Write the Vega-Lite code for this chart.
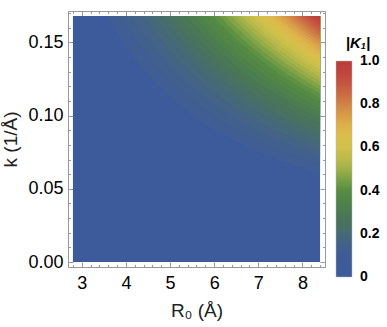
{
  "$schema": "https://vega.github.io/schema/vega-lite/v6.json",
  "width": 257,
  "height": 256,
  "autosize": "none",
  "padding": {"left": 68, "top": 11, "right": 62, "bottom": 60},
  "config": {"view": {"stroke": null}, "font": "Liberation Sans"},
  "data": {"values": [
    {"v":0,"R0":2.8,"k":0},{"v":0,"R0":8.4,"k":0},
    {"v":0.1125,"R0":3.58,"k":0.168},{"v":0.1125,"R0":4,"k":0.1471},{"v":0.1125,"R0":4.5,"k":0.1277},{"v":0.1125,"R0":5,"k":0.1125},{"v":0.1125,"R0":5.5,"k":0.1004},{"v":0.1125,"R0":6,"k":0.0904},{"v":0.1125,"R0":6.5,"k":0.0821},{"v":0.1125,"R0":7,"k":0.0751},{"v":0.1125,"R0":7.5,"k":0.0692},{"v":0.1125,"R0":8,"k":0.064},{"v":0.1125,"R0":8.4,"k":0.0604},
    {"v":0.1375,"R0":3.889,"k":0.168},{"v":0.1375,"R0":4,"k":0.1624},{"v":0.1375,"R0":4.5,"k":0.141},{"v":0.1375,"R0":5,"k":0.1243},{"v":0.1375,"R0":5.5,"k":0.1108},{"v":0.1375,"R0":6,"k":0.0998},{"v":0.1375,"R0":6.5,"k":0.0907},{"v":0.1375,"R0":7,"k":0.083},{"v":0.1375,"R0":7.5,"k":0.0764},{"v":0.1375,"R0":8,"k":0.0707},{"v":0.1375,"R0":8.4,"k":0.0667},
    {"v":0.1625,"R0":4.16,"k":0.168},{"v":0.1625,"R0":4.5,"k":0.1529},{"v":0.1625,"R0":5,"k":0.1347},{"v":0.1625,"R0":5.5,"k":0.1202},{"v":0.1625,"R0":6,"k":0.1083},{"v":0.1625,"R0":6.5,"k":0.0984},{"v":0.1625,"R0":7,"k":0.09},{"v":0.1625,"R0":7.5,"k":0.0828},{"v":0.1625,"R0":8,"k":0.0767},{"v":0.1625,"R0":8.4,"k":0.0723},
    {"v":0.1875,"R0":4.405,"k":0.168},{"v":0.1875,"R0":4.5,"k":0.1637},{"v":0.1875,"R0":5,"k":0.1443},{"v":0.1875,"R0":5.5,"k":0.1287},{"v":0.1875,"R0":6,"k":0.116},{"v":0.1875,"R0":6.5,"k":0.1053},{"v":0.1875,"R0":7,"k":0.0964},{"v":0.1875,"R0":7.5,"k":0.0887},{"v":0.1875,"R0":8,"k":0.0821},{"v":0.1875,"R0":8.4,"k":0.0774},
    {"v":0.2125,"R0":4.628,"k":0.168},{"v":0.2125,"R0":5,"k":0.1531},{"v":0.2125,"R0":5.5,"k":0.1366},{"v":0.2125,"R0":6,"k":0.123},{"v":0.2125,"R0":6.5,"k":0.1118},{"v":0.2125,"R0":7,"k":0.1023},{"v":0.2125,"R0":7.5,"k":0.0941},{"v":0.2125,"R0":8,"k":0.0871},{"v":0.2125,"R0":8.4,"k":0.0822},
    {"v":0.2375,"R0":4.835,"k":0.168},{"v":0.2375,"R0":5,"k":0.1614},{"v":0.2375,"R0":5.5,"k":0.1439},{"v":0.2375,"R0":6,"k":0.1296},{"v":0.2375,"R0":6.5,"k":0.1178},{"v":0.2375,"R0":7,"k":0.1078},{"v":0.2375,"R0":7.5,"k":0.0992},{"v":0.2375,"R0":8,"k":0.0918},{"v":0.2375,"R0":8.4,"k":0.0866},
    {"v":0.2625,"R0":5.027,"k":0.168},{"v":0.2625,"R0":5.5,"k":0.1508},{"v":0.2625,"R0":6,"k":0.1359},{"v":0.2625,"R0":6.5,"k":0.1234},{"v":0.2625,"R0":7,"k":0.1129},{"v":0.2625,"R0":7.5,"k":0.1039},{"v":0.2625,"R0":8,"k":0.0962},{"v":0.2625,"R0":8.4,"k":0.0907},
    {"v":0.2875,"R0":5.207,"k":0.168},{"v":0.2875,"R0":5.5,"k":0.1573},{"v":0.2875,"R0":6,"k":0.1417},{"v":0.2875,"R0":6.5,"k":0.1288},{"v":0.2875,"R0":7,"k":0.1178},{"v":0.2875,"R0":7.5,"k":0.1084},{"v":0.2875,"R0":8,"k":0.1004},{"v":0.2875,"R0":8.4,"k":0.0947},
    {"v":0.3125,"R0":5.378,"k":0.168},{"v":0.3125,"R0":5.5,"k":0.1635},{"v":0.3125,"R0":6,"k":0.1473},{"v":0.3125,"R0":6.5,"k":0.1338},{"v":0.3125,"R0":7,"k":0.1225},{"v":0.3125,"R0":7.5,"k":0.1127},{"v":0.3125,"R0":8,"k":0.1043},{"v":0.3125,"R0":8.4,"k":0.0984},
    {"v":0.3375,"R0":5.54,"k":0.168},{"v":0.3375,"R0":6,"k":0.1527},{"v":0.3375,"R0":6.5,"k":0.1387},{"v":0.3375,"R0":7,"k":0.1269},{"v":0.3375,"R0":7.5,"k":0.1168},{"v":0.3375,"R0":8,"k":0.1081},{"v":0.3375,"R0":8.4,"k":0.1019},
    {"v":0.3625,"R0":5.694,"k":0.168},{"v":0.3625,"R0":6,"k":0.1578},{"v":0.3625,"R0":6.5,"k":0.1433},{"v":0.3625,"R0":7,"k":0.1311},{"v":0.3625,"R0":7.5,"k":0.1207},{"v":0.3625,"R0":8,"k":0.1117},{"v":0.3625,"R0":8.4,"k":0.1054},
    {"v":0.3875,"R0":5.841,"k":0.168},{"v":0.3875,"R0":6,"k":0.1627},{"v":0.3875,"R0":6.5,"k":0.1478},{"v":0.3875,"R0":7,"k":0.1352},{"v":0.3875,"R0":7.5,"k":0.1245},{"v":0.3875,"R0":8,"k":0.1152},{"v":0.3875,"R0":8.4,"k":0.1086},
    {"v":0.4125,"R0":5.983,"k":0.168},{"v":0.4125,"R0":6,"k":0.1674},{"v":0.4125,"R0":6.5,"k":0.1521},{"v":0.4125,"R0":7,"k":0.1392},{"v":0.4125,"R0":7.5,"k":0.1281},{"v":0.4125,"R0":8,"k":0.1185},{"v":0.4125,"R0":8.4,"k":0.1118},
    {"v":0.4375,"R0":6.119,"k":0.168},{"v":0.4375,"R0":6.5,"k":0.1562},{"v":0.4375,"R0":7,"k":0.143},{"v":0.4375,"R0":7.5,"k":0.1316},{"v":0.4375,"R0":8,"k":0.1218},{"v":0.4375,"R0":8.4,"k":0.1149},
    {"v":0.4625,"R0":6.249,"k":0.168},{"v":0.4625,"R0":6.5,"k":0.1603},{"v":0.4625,"R0":7,"k":0.1466},{"v":0.4625,"R0":7.5,"k":0.135},{"v":0.4625,"R0":8,"k":0.1249},{"v":0.4625,"R0":8.4,"k":0.1178},
    {"v":0.4875,"R0":6.376,"k":0.168},{"v":0.4875,"R0":6.5,"k":0.1642},{"v":0.4875,"R0":7,"k":0.1502},{"v":0.4875,"R0":7.5,"k":0.1383},{"v":0.4875,"R0":8,"k":0.128},{"v":0.4875,"R0":8.4,"k":0.1207},
    {"v":0.5125,"R0":6.498,"k":0.168},{"v":0.5125,"R0":7,"k":0.1537},{"v":0.5125,"R0":7.5,"k":0.1415},{"v":0.5125,"R0":8,"k":0.1309},{"v":0.5125,"R0":8.4,"k":0.1235},
    {"v":0.5375,"R0":6.617,"k":0.168},{"v":0.5375,"R0":7,"k":0.157},{"v":0.5375,"R0":7.5,"k":0.1446},{"v":0.5375,"R0":8,"k":0.1338},{"v":0.5375,"R0":8.4,"k":0.1262},
    {"v":0.5625,"R0":6.732,"k":0.168},{"v":0.5625,"R0":7,"k":0.1603},{"v":0.5625,"R0":7.5,"k":0.1476},{"v":0.5625,"R0":8,"k":0.1366},{"v":0.5625,"R0":8.4,"k":0.1288},
    {"v":0.5875,"R0":6.843,"k":0.168},{"v":0.5875,"R0":7,"k":0.1635},{"v":0.5875,"R0":7.5,"k":0.1505},{"v":0.5875,"R0":8,"k":0.1393},{"v":0.5875,"R0":8.4,"k":0.1314},
    {"v":0.6125,"R0":6.952,"k":0.168},{"v":0.6125,"R0":7,"k":0.1666},{"v":0.6125,"R0":7.5,"k":0.1534},{"v":0.6125,"R0":8,"k":0.142},{"v":0.6125,"R0":8.4,"k":0.1339},
    {"v":0.6375,"R0":7.058,"k":0.168},{"v":0.6375,"R0":7.5,"k":0.1562},{"v":0.6375,"R0":8,"k":0.1446},{"v":0.6375,"R0":8.4,"k":0.1363},
    {"v":0.6625,"R0":7.161,"k":0.168},{"v":0.6625,"R0":7.5,"k":0.1589},{"v":0.6625,"R0":8,"k":0.1471},{"v":0.6625,"R0":8.4,"k":0.1387},
    {"v":0.6875,"R0":7.262,"k":0.168},{"v":0.6875,"R0":7.5,"k":0.1616},{"v":0.6875,"R0":8,"k":0.1496},{"v":0.6875,"R0":8.4,"k":0.1411},
    {"v":0.7125,"R0":7.361,"k":0.168},{"v":0.7125,"R0":7.5,"k":0.1643},{"v":0.7125,"R0":8,"k":0.152},{"v":0.7125,"R0":8.4,"k":0.1434},
    {"v":0.7375,"R0":7.457,"k":0.168},{"v":0.7375,"R0":7.5,"k":0.1668},{"v":0.7375,"R0":8,"k":0.1544},{"v":0.7375,"R0":8.4,"k":0.1456},
    {"v":0.7625,"R0":7.551,"k":0.168},{"v":0.7625,"R0":8,"k":0.1568},{"v":0.7625,"R0":8.4,"k":0.1478},
    {"v":0.7875,"R0":7.643,"k":0.168},{"v":0.7875,"R0":8,"k":0.1591},{"v":0.7875,"R0":8.4,"k":0.15},
    {"v":0.8125,"R0":7.734,"k":0.168},{"v":0.8125,"R0":8,"k":0.1613},{"v":0.8125,"R0":8.4,"k":0.1521},
    {"v":0.8375,"R0":7.822,"k":0.168},{"v":0.8375,"R0":8,"k":0.1635},{"v":0.8375,"R0":8.4,"k":0.1542},
    {"v":0.8625,"R0":7.909,"k":0.168},{"v":0.8625,"R0":8,"k":0.1657},{"v":0.8625,"R0":8.4,"k":0.1563},
    {"v":0.8875,"R0":7.995,"k":0.168},{"v":0.8875,"R0":8.4,"k":0.1583},
    {"v":0.9125,"R0":8.079,"k":0.168},{"v":0.9125,"R0":8.4,"k":0.1603},
    {"v":0.9375,"R0":8.161,"k":0.168},{"v":0.9375,"R0":8.4,"k":0.1623},
    {"v":0.9625,"R0":8.242,"k":0.168},{"v":0.9625,"R0":8.4,"k":0.1642},
    {"v":0.9875,"R0":8.322,"k":0.168},{"v":0.9875,"R0":8.4,"k":0.1661}
  ]},
  "encoding": {
    "y2": {"datum": 0.168},
    "detail": {"field": "v", "type": "nominal"},
    "color": {
      "field": "v", "type": "quantitative",
      "scale": {
        "domain": [0, 0.1, 0.15, 0.2, 0.25, 0.3, 0.35, 0.4, 0.45, 0.5, 0.55, 0.6, 0.65, 0.7, 0.75, 0.8, 0.85, 0.9, 0.95, 1],
        "range": ["#3d5a9b", "#3f5b97", "#43618a", "#466a75", "#48725e", "#4a7a52", "#4f8448", "#578c43", "#78a045", "#a0b048", "#bdbb4a", "#cfc14b", "#dabe4c", "#ddb24b", "#d89b48", "#d08346", "#ca6a43", "#c4533f", "#bf443c", "#bc3a3a"],
        "interpolate": "rgb"
      },
      "legend": {
        "orient": "none", "legendX": 268, "legendY": 25, "direction": "vertical",
        "gradientLength": 216, "gradientThickness": 16,
        "gradientStrokeColor": "#bbbbbb", "gradientStrokeWidth": 0.5,
        "title": "|K₁|", "titleFontSize": 15, "titleFontWeight": "bold", "titleFontStyle": "italic",
        "titleColor": "black", "titlePadding": 10, "titleAnchor": "middle",
        "values": [0, 0.2, 0.4, 0.6, 0.8, 1],
        "labelExpr": "datum.value == 0 ? '0' : format(datum.value, '.1f')",
        "labelFontSize": 14, "labelFontWeight": "bold", "labelColor": "black",
        "labelOffset": 8, "labelBaseline": "middle", "labelOverlap": false,
        "encode": {"labels": {"update": {"baseline": {"value": "middle"}}}}
      }
    }
  },
  "layer": [
    {
      "transform": [{"filter": "datum.v == 0"}],
      "mark": {"type": "area", "interpolate": "monotone"},
      "encoding": {
        "x": {"field": "R0", "type": "quantitative",
          "scale": {"domain": [2.688, 8.512], "nice": false, "zero": false},
          "axis": {"orient": "bottom", "title": "R₀ (Å)",
            "values": [2.8,3,3.2,3.4,3.6,3.8,4,4.2,4.4,4.6,4.8,5,5.2,5.4,5.6,5.8,6,6.2,6.4,6.6,6.8,7,7.2,7.4,7.6,7.8,8,8.2,8.4],
            "labelExpr": "datum.value % 1 === 0 ? format(datum.value, 'd') : ''",
            "labelFontSize": 18, "labelColor": "black", "labelPadding": 12, "labelOverlap": false, "labelFlush": false,
            "tickSize": {"condition": {"test": "datum.value % 1 === 0", "value": -5}, "value": -2.5},
            "tickColor": "#999999", "domainColor": "#999999", "grid": false,
            "titleFontSize": 19, "titleFontWeight": "normal", "titleColor": "#222222", "titlePadding": 7}},
        "y": {"field": "k", "type": "quantitative", "stack": null,
          "scale": {"domain": [-0.00336, 0.17136], "nice": false, "zero": false},
          "axis": {"orient": "left", "title": "k (1/Å)",
            "values": [0,0.01,0.02,0.03,0.04,0.05,0.06,0.07,0.08,0.09,0.1,0.11,0.12,0.13,0.14,0.15,0.16,0.17],
            "labelExpr": "abs(datum.value*20 - round(datum.value*20)) < 0.000001 ? format(datum.value, '.2f') : ''",
            "labelFontSize": 18, "labelColor": "black", "labelPadding": 10, "labelOverlap": false, "labelFlush": false,
            "tickSize": {"condition": {"test": "abs(datum.value*20 - round(datum.value*20)) < 0.000001", "value": -5}, "value": -2.5},
            "tickColor": "#999999", "domainColor": "#999999", "grid": false,
            "titleFontSize": 19, "titleFontWeight": "normal", "titleColor": "#222222", "titlePadding": 7}}
      }
    },
    {
      "transform": [{"filter": "datum.v > 0"}],
      "mark": {"type": "area", "interpolate": "monotone"},
      "encoding": {
        "x": {"field": "R0", "type": "quantitative",
          "scale": {"domain": [2.688, 8.512], "nice": false, "zero": false},
          "axis": {"orient": "top", "title": null, "labels": false,
            "values": [2.8,3,3.2,3.4,3.6,3.8,4,4.2,4.4,4.6,4.8,5,5.2,5.4,5.6,5.8,6,6.2,6.4,6.6,6.8,7,7.2,7.4,7.6,7.8,8,8.2,8.4],
            "tickSize": {"condition": {"test": "datum.value % 1 === 0", "value": -5}, "value": -2.5},
            "tickColor": "#999999", "domainColor": "#999999", "grid": false}},
        "y": {"field": "k", "type": "quantitative", "stack": null,
          "scale": {"domain": [-0.00336, 0.17136], "nice": false, "zero": false},
          "axis": {"orient": "right", "title": null, "labels": false,
            "values": [0,0.01,0.02,0.03,0.04,0.05,0.06,0.07,0.08,0.09,0.1,0.11,0.12,0.13,0.14,0.15,0.16,0.17],
            "tickSize": {"condition": {"test": "abs(datum.value*20 - round(datum.value*20)) < 0.000001", "value": -5}, "value": -2.5},
            "tickColor": "#999999", "domainColor": "#999999", "grid": false}}
      }
    }
  ],
  "resolve": {"axis": {"x": "independent", "y": "independent"}}
}
